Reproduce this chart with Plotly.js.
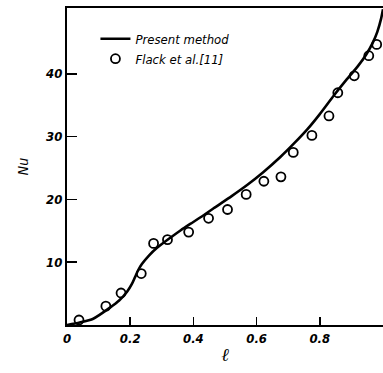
<!DOCTYPE html>
<html>
<head>
<meta charset="utf-8">
<script src="https://cdn.plot.ly/plotly-3.0.1.min.js"></script>
<style>html,body{margin:0;padding:0;background:#fff;}#chart{width:383px;height:373px;}</style>
</head>
<body>
<div id="chart"></div>
<script>
// Present method (solid curve)
const lineX = [0, 0.04, 0.083, 0.137, 0.165, 0.19, 0.205, 0.215, 0.226, 0.237, 0.26, 0.285, 0.327, 0.36, 0.39, 0.43, 0.464, 0.52, 0.570, 0.62, 0.676, 0.72, 0.761, 0.80, 0.845, 0.88, 0.92, 0.947, 0.967, 0.982, 0.994, 1.0];
const lineY = [0, 0.4, 1.0, 2.8, 3.9, 5.3, 6.5, 7.6, 8.8, 9.7, 11.1, 12.3, 13.9, 15.1, 16.1, 17.4, 18.6, 20.5, 22.3, 24.3, 26.8, 29.0, 31.2, 33.6, 36.6, 38.8, 41.2, 43.1, 44.9, 46.7, 48.8, 50.3];
// Flack et al. [11] (open circles)
const ptsX = [0.038, 0.123, 0.171, 0.235, 0.274, 0.318, 0.385, 0.448, 0.508, 0.567, 0.623, 0.677, 0.716, 0.775, 0.829, 0.857, 0.909, 0.955, 0.980];
const ptsY = [0.8, 3.0, 5.1, 8.2, 13.0, 13.6, 14.8, 17.0, 18.4, 20.8, 22.9, 23.6, 27.5, 30.2, 33.3, 37.0, 39.7, 42.9, 44.7];
// Tick labels
const xTickVals = [0, 0.2, 0.4, 0.6, 0.8];
const xTickText = ['0', '0.2', '0.4', '0.6', '0.8'];
const yTickVals = [10, 20, 30, 40];
const yTickText = ['10', '20', '30', '40'];

const tickFont = {family: 'DejaVu Sans Condensed, DejaVu Sans', size: 13, color: '#000', style: 'italic', weight: 'bold'};

const traces = [
  {x: lineX, y: lineY, mode: 'lines', name: 'Present method',
   line: {color: '#000', width: 2.6, shape: 'spline', smoothing: 0.6}},
  {x: ptsX, y: ptsY, mode: 'markers', name: 'Flack et al.[11]',
   marker: {symbol: 'circle-open', size: 9, color: '#000', line: {width: 1.8, color: '#000'}}}
];

const layout = {
  width: 383, height: 373,
  margin: {l: 67, r: 0, t: 8, b: 48},
  paper_bgcolor: '#fff', plot_bgcolor: '#fff',
  showlegend: true,
  legend: {x: 0.09, y: 0.95, xanchor: 'left', yanchor: 'top', bgcolor: 'rgba(0,0,0,0)',
           font: {family: 'DejaVu Sans Condensed, DejaVu Sans', size: 13, color: '#000', style: 'italic'},
           tracegroupgap: 0, itemwidth: 30},
  xaxis: {range: [0, 1.0], tickvals: xTickVals, ticktext: xTickText, ticks: 'inside', ticklen: 8,
          tickwidth: 1.5, tickcolor: '#000', showline: true, linecolor: '#000', linewidth: 2,
          mirror: true, showgrid: false, zeroline: false, tickfont: tickFont,
          title: {text: 'ℓ', font: {family: 'DejaVu Serif', size: 18, color: '#000', style: 'italic'}, standoff: 4}},
  yaxis: {range: [0, 50.5], tickvals: yTickVals, ticktext: yTickText, ticks: 'inside', ticklen: 10,
          tickwidth: 1.5, tickcolor: '#000', showline: true, linecolor: '#000', linewidth: 2,
          mirror: false, showgrid: false, zeroline: false, tickfont: tickFont,
          title: {text: 'Nu', font: {family: 'DejaVu Sans Condensed, DejaVu Sans', size: 14, color: '#000', style: 'italic'}, standoff: 14}}
};

Plotly.newPlot('chart', traces, layout, {displayModeBar: false, staticPlot: true});
</script>
</body>
</html>
